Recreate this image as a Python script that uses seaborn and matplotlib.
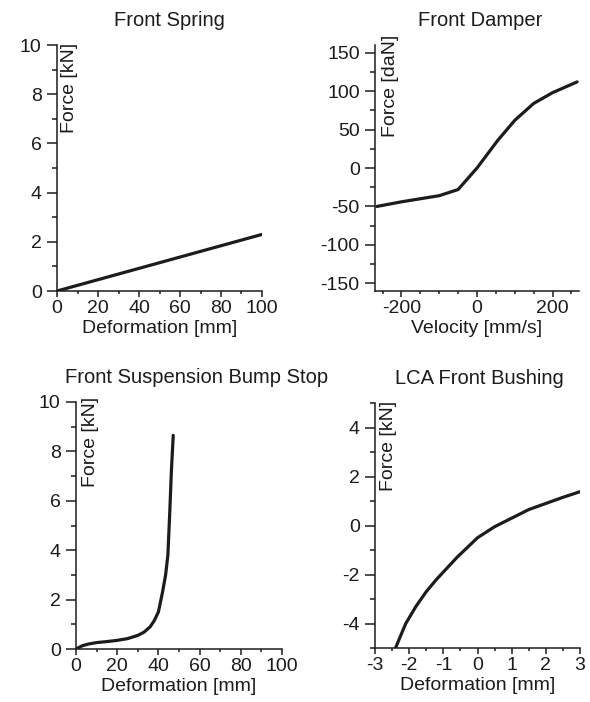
import numpy as np
import seaborn as sns
import matplotlib as mpl
from matplotlib import pyplot as plt
from matplotlib.ticker import MultipleLocator

sns.set_style("ticks")
mpl.rcParams["font.family"] = ["Liberation Sans", "DejaVu Sans"]
mpl.rcParams["axes.unicode_minus"] = False

INK = "#1c1c1c"

# Front spring: deformation [mm] vs force [kN]
spring_x = [0, 20, 40, 60, 80, 100]
spring_y = [0, 0.46, 0.92, 1.38, 1.84, 2.3]

# Front damper: velocity [mm/s] vs force [daN]
damper_x = [-265, -200, -100, -50, 0, 55, 100, 150, 200, 265]
damper_y = [-50, -44, -36, -28, 0, 36, 62, 84, 98, 112]

# Front suspension bump stop: deformation [mm] vs force [kN]
bump_x = [0, 3, 6, 10, 15, 20, 25, 30, 33, 36, 38, 40, 42, 43.5, 44.6, 45.5, 46.3, 47.2]
bump_y = [0, 0.13, 0.2, 0.26, 0.3, 0.35, 0.42, 0.55, 0.68, 0.9, 1.15, 1.5, 2.3, 3.0, 3.8, 5.5, 7.2, 8.65]

# LCA front bushing: deformation [mm] vs force [kN]
lca_x = [-2.4, -2.1, -1.8, -1.5, -1.2, -0.9, -0.6, -0.3, 0, 0.5, 1.0, 1.5, 2.0, 2.5, 3.0]
lca_y = [-5.0, -4.0, -3.3, -2.7, -2.2, -1.75, -1.3, -0.9, -0.5, -0.05, 0.3, 0.65, 0.9, 1.15, 1.38]

panels = [
    # rect is in pixels: left, top, right, bottom
    dict(x=spring_x, y=spring_y, rect=(57, 45, 262, 291), title="Front Spring", tx=0.549,
         xlabel="Deformation [mm]", ylabel="Force [kN]", lab=(0.02, 1.01),
         xlim=(0, 100), ylim=(0, 10), xt=(20, 10), yt=(2, 1)),
    dict(x=damper_x, y=damper_y, rect=(375, 45, 579, 291), title="Front Damper", tx=0.515,
         xlabel="Velocity [mm/s]", ylabel="Force [daN]", lab=(0.035, 1.04),
         xlim=(-270, 270), ylim=(-160, 160), xt=(200, 50), yt=(50, 25)),
    dict(x=bump_x, y=bump_y, rect=(76, 402, 282, 649), title="Front Suspension Bump Stop", tx=0.583,
         xlabel="Deformation [mm]", ylabel="Force [kN]", lab=(0.03, 1.02),
         xlim=(0, 100), ylim=(0, 10), xt=(20, 10), yt=(2, 1)),
    dict(x=lca_x, y=lca_y, rect=(375, 403, 580, 648), title="LCA Front Bushing", tx=0.51,
         xlabel="Deformation [mm]", ylabel="Force [kN]", lab=(0.025, 1.01),
         xlim=(-3, 3), ylim=(-5, 5), xt=(1, 0.5), yt=(2, 1)),
]

W, H = 590, 702
fig = plt.figure(figsize=(W / 100, H / 100), dpi=100)

for p in panels:
    l, t, r, b = p["rect"]
    ax = fig.add_axes([l / W, 1 - b / H, (r - l) / W, (b - t) / H])
    sns.lineplot(x=p["x"], y=p["y"], ax=ax, color=INK, lw=2.3, sort=False)
    ax.set_xlim(p["xlim"])
    ax.set_ylim(p["ylim"])
    ax.xaxis.set_major_locator(MultipleLocator(p["xt"][0]))
    ax.xaxis.set_minor_locator(MultipleLocator(p["xt"][1]))
    ax.yaxis.set_major_locator(MultipleLocator(p["yt"][0]))
    ax.yaxis.set_minor_locator(MultipleLocator(p["yt"][1]))
    sns.despine(ax=ax)
    for s in ["left", "bottom"]:
        ax.spines[s].set_linewidth(1.1)
        ax.spines[s].set_color(INK)
    ax.tick_params(axis="y", which="major", length=7, width=1.1, color=INK,
                   labelsize=14, labelcolor=INK, pad=4)
    ax.tick_params(axis="y", which="minor", length=3.5, width=1.1, color=INK)
    ax.tick_params(axis="x", which="major", length=4, width=1.1, color=INK,
                   labelsize=14, labelcolor=INK, pad=2.5)
    ax.tick_params(axis="x", which="minor", length=2.3, width=1.1, color=INK)
    ax.set_title(p["title"], fontsize=14.5, color=INK, pad=14, x=p["tx"])
    ax.set_xlabel(p["xlabel"], fontsize=14, color=INK, labelpad=2)
    ax.set_ylabel(p["ylabel"], fontsize=14, color=INK)
    ax.yaxis.set_label_coords(*p["lab"])
    ax.yaxis.label.set(rotation_mode="default", ha="left", va="top")

plt.savefig("out.png", dpi=100)
plt.close()
